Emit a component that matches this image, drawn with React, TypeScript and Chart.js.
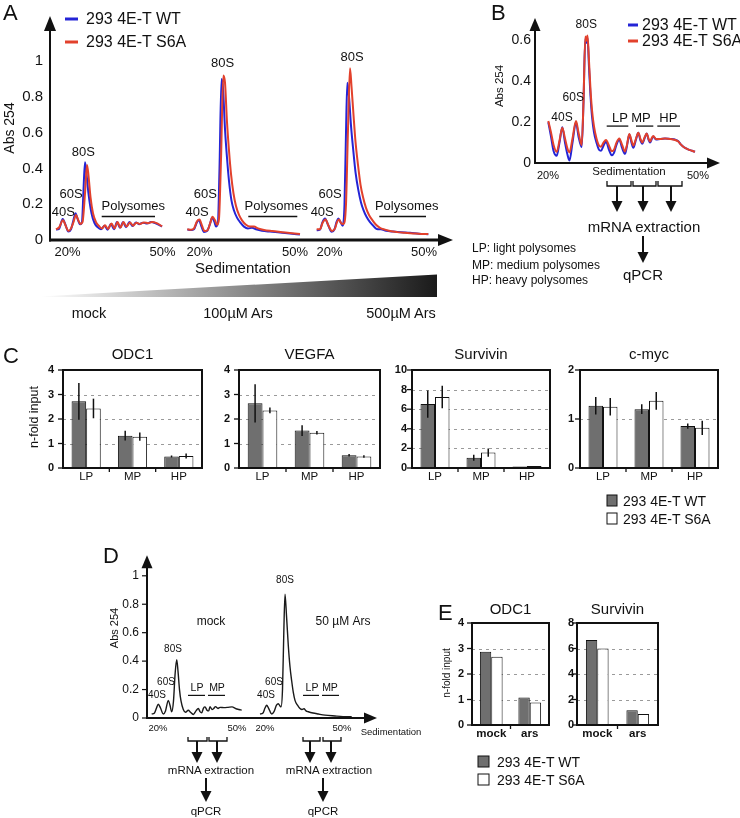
import React, { useEffect, useRef } from "react";
import { Chart, registerables } from "chart.js";

Chart.register(...registerables);

const FONT = '"Liberation Sans", Arial, Helvetica, sans-serif';
const INK = "#111";
const BLUE = "#2424d6";
const RED = "#e2412c";
const GRAY = "#6f6f6f";
Chart.defaults.font.family = FONT;
Chart.defaults.color = INK;

// ---------------- data: panel A (three polysome profiles) ----------------
const a1wtX = [6, 9, 12.7, 15.5, 18.3, 21, 23, 25.5, 27.5, 30, 32, 33.5, 35, 36.5, 38.5, 41.5, 44.5, 47.5, 51, 54.5, 57.5, 61, 64, 67, 70, 73, 76, 79.5, 82.5, 86, 89, 93, 97, 101, 105, 109, 112];
const a1wtY = [0.058, 0.062, 0.118, 0.085, 0.047, 0.06, 0.1, 0.15, 0.12, 0.088, 0.1, 0.28, 0.435, 0.37, 0.26, 0.15, 0.095, 0.072, 0.06, 0.08, 0.058, 0.09, 0.06, 0.1, 0.068, 0.1, 0.072, 0.1, 0.078, 0.098, 0.088, 0.097, 0.092, 0.1, 0.095, 0.085, 0.075];
const a1s6X = [6, 9, 13, 16, 18.5, 21, 23.5, 26, 28, 30.5, 32.5, 35, 37, 38.5, 40.5, 43, 46, 49, 52, 55, 58, 61.5, 64.5, 67.5, 70.5, 73.5, 76.5, 80, 83, 86.5, 90, 94, 98, 102, 106, 110, 112];
const a1s6Y = [0.06, 0.07, 0.11, 0.075, 0.05, 0.065, 0.1, 0.14, 0.115, 0.09, 0.1, 0.26, 0.42, 0.36, 0.24, 0.15, 0.1, 0.078, 0.065, 0.082, 0.062, 0.092, 0.065, 0.1, 0.07, 0.1, 0.075, 0.098, 0.08, 0.097, 0.09, 0.098, 0.094, 0.1, 0.096, 0.084, 0.076];

const a2wtX = [137.3, 141, 144, 147, 149, 151.5, 154, 157, 160, 162, 164.5, 166, 168, 169.5, 171.5, 173, 175, 177, 179, 181.5, 184, 187, 190, 194, 198, 202, 206, 212, 220, 230, 240, 250];
const a2wtY = [0.058, 0.056, 0.06, 0.1, 0.11, 0.075, 0.045, 0.05, 0.09, 0.125, 0.1, 0.075, 0.1, 0.4, 0.9, 0.85, 0.62, 0.46, 0.33, 0.22, 0.165, 0.125, 0.1, 0.075, 0.065, 0.068, 0.06, 0.052, 0.047, 0.042, 0.036, 0.031];
const a2s6X = [137.3, 141, 144, 147, 149.5, 152, 154.5, 157.5, 160.5, 162.5, 165, 167, 169, 171, 173.3, 175, 177, 179, 181, 183.5, 186, 189, 192, 196, 200, 204, 208, 214, 222, 232, 242, 250];
const a2s6Y = [0.06, 0.058, 0.065, 0.105, 0.115, 0.08, 0.05, 0.055, 0.1, 0.13, 0.11, 0.085, 0.12, 0.45, 0.92, 0.88, 0.66, 0.5, 0.37, 0.26, 0.19, 0.14, 0.11, 0.085, 0.075, 0.075, 0.065, 0.056, 0.05, 0.044, 0.038, 0.033];

const a3wtX = [266.7, 270, 272.5, 275, 278, 281.7, 284.5, 286.5, 288.3, 290.5, 292.7, 294.5, 296, 297.3, 299, 301, 303.3, 305.5, 308.3, 311, 313.3, 316.5, 320, 323.5, 326.7, 331, 336, 343.3, 351, 360, 369, 378.3];
const a3wtY = [0.055, 0.058, 0.1, 0.12, 0.085, 0.046, 0.06, 0.1, 0.12, 0.1, 0.08, 0.2, 0.6, 0.88, 0.8, 0.64, 0.5, 0.38, 0.28, 0.21, 0.17, 0.13, 0.1, 0.078, 0.062, 0.06, 0.052, 0.047, 0.043, 0.04, 0.035, 0.032];
const a3s6X = [266.7, 270, 272.5, 275.5, 278.5, 282, 285, 287, 289, 291, 293.5, 296, 298, 300, 301.5, 303.5, 305.5, 308, 310.5, 313, 316, 319, 322.5, 326, 330, 335, 340, 347, 355, 363, 371, 378.3];
const a3s6Y = [0.06, 0.06, 0.095, 0.115, 0.08, 0.05, 0.065, 0.1, 0.115, 0.095, 0.09, 0.2, 0.62, 0.96, 0.86, 0.7, 0.55, 0.42, 0.31, 0.24, 0.18, 0.14, 0.11, 0.085, 0.068, 0.058, 0.05, 0.044, 0.04, 0.037, 0.034, 0.033];

const aYTicks = [0, 0.2, 0.4, 0.6, 0.8, 1];
const aXTicks = [17.5, 112.5, 149.5, 245, 279.5, 374];
const aXLabels = ["20%", "50%", "20%", "50%", "20%", "50%"];

// ---------------- data: panel B ----------------
const bX = [13.3, 16, 18.5, 21.7, 24.5, 27.3, 30, 32.5, 34.5, 37.5, 41, 43.5, 46.7, 48.5, 50.3, 51.5, 52.5, 54, 55.5, 57, 59, 61.5, 64, 66, 68.5, 71, 74, 76.7, 79, 81.5, 84.3, 87, 90, 92, 94.3, 96.5, 98.3, 101, 103.3, 105.5, 107.3, 109.5, 111.7, 113.5, 115, 117, 118.3, 121, 125, 130, 135, 140, 143.3, 146, 149, 153, 157, 160];
const bWT = [0.2, 0.13, 0.06, 0.035, 0.1, 0.175, 0.1, 0.04, 0.012, 0.1, 0.2, 0.13, 0.078, 0.3, 0.61, 0.59, 0.615, 0.47, 0.33, 0.23, 0.15, 0.1, 0.065, 0.06, 0.085, 0.105, 0.065, 0.038, 0.05, 0.09, 0.115, 0.075, 0.045, 0.085, 0.14, 0.1, 0.075, 0.115, 0.148, 0.11, 0.095, 0.12, 0.145, 0.115, 0.1, 0.12, 0.13, 0.115, 0.118, 0.12, 0.118, 0.115, 0.107, 0.09, 0.077, 0.067, 0.06, 0.055];
const bS6A = [0.206, 0.15, 0.09, 0.055, 0.11, 0.173, 0.12, 0.07, 0.052, 0.12, 0.206, 0.15, 0.088, 0.3, 0.62, 0.6, 0.625, 0.5, 0.36, 0.26, 0.18, 0.12, 0.085, 0.08, 0.1, 0.113, 0.085, 0.058, 0.065, 0.1, 0.12, 0.09, 0.057, 0.09, 0.142, 0.11, 0.085, 0.12, 0.148, 0.118, 0.1, 0.125, 0.145, 0.12, 0.105, 0.125, 0.132, 0.118, 0.118, 0.12, 0.118, 0.113, 0.105, 0.09, 0.077, 0.067, 0.06, 0.055];
const bYTicks = [0, 0.2, 0.4, 0.6];
const bXTicks = [13, 163];
const bXLabels = ["20%", "50%"];

// ---------------- data: panel C (qPCR bars) ----------------
const cCats = ["LP", "MP", "HP"];
const odc1WT = [2.72, 1.32, 0.47];
const odc1WTErr = [0.75, 0.2, 0.04];
const odc1S6A = [2.43, 1.28, 0.49];
const odc1S6AErr = [0.4, 0.17, 0.1];
const vegfaWT = [2.64, 1.53, 0.52];
const vegfaWTErr = [0.78, 0.22, 0.05];
const vegfaS6A = [2.35, 1.44, 0.47];
const vegfaS6AErr = [0.12, 0.07, 0.05];
const survWT = [6.52, 1.05, 0.16];
const survWTErr = [1.4, 0.3, 0];
const survS6A = [7.25, 1.58, 0.2];
const survS6AErr = [1.15, 0.42, 0];
const mycWT = [1.27, 1.2, 0.855];
const mycWTErr = [0.18, 0.1, 0.055];
const mycS6A = [1.25, 1.37, 0.82];
const mycS6AErr = [0.18, 0.18, 0.145];

// ---------------- data: panel D ----------------
const d1X = [4.7, 7.5, 9.5, 11.3, 13.5, 16.3, 18.5, 21.3, 23, 24.7, 26.5, 28, 29.7, 31, 32.5, 34, 36.3, 38.5, 41.3, 43.5, 46.3, 49, 51.3, 53, 54.7, 56.5, 58, 60, 61.7, 63, 65, 66.5, 68.5, 71, 73, 77, 81, 85, 89, 92, 94.7];
const d1Y = [0.028, 0.035, 0.07, 0.097, 0.07, 0.028, 0.05, 0.124, 0.09, 0.044, 0.12, 0.3, 0.41, 0.33, 0.2, 0.12, 0.06, 0.04, 0.055, 0.04, 0.025, 0.05, 0.067, 0.045, 0.037, 0.07, 0.078, 0.055, 0.05, 0.08, 0.06, 0.065, 0.08, 0.067, 0.075, 0.073, 0.075, 0.078, 0.065, 0.06, 0.055];
const d2X = [113, 116, 118, 119.7, 121.5, 124.7, 127, 129.5, 131.3, 133, 134, 135.5, 136.8, 138, 139.5, 141.3, 143, 144.7, 146.3, 148, 150.5, 153, 155, 157, 159, 161.3, 166, 171.3, 178, 188, 196, 204.7];
const d2Y = [0.028, 0.035, 0.07, 0.09, 0.07, 0.028, 0.045, 0.09, 0.1, 0.085, 0.078, 0.2, 0.6, 0.87, 0.72, 0.51, 0.36, 0.26, 0.18, 0.124, 0.09, 0.067, 0.06, 0.065, 0.05, 0.044, 0.035, 0.028, 0.02, 0.014, 0.01, 0.009];
const dYTicks = [0, 0.2, 0.4, 0.6, 0.8, 1];
const dXTicks = [11, 90, 118, 195];
const dXLabels = ["20%", "50%", "20%", "50%"];

// ---------------- data: panel E ----------------
const eCats = ["mock", "ars"];
const eOdc1WT = [2.87, 1.08];
const eOdc1S6A = [2.68, 0.88];
const eSurvWT = [6.67, 1.15];
const eSurvS6A = [6.0, 0.86];

// ---------------------------------------------------------------
const pts = (xs: number[], ys: number[]) => xs.map((x, i) => ({ x, y: ys[i] }));

const decoPlugin = {
  id: "deco",
  beforeDatasetsDraw(chart: any, _a: any, o: any) {
    if (!o || !o.grid) return;
    const { ctx, chartArea: ca, scales } = chart;
    ctx.save();
    ctx.strokeStyle = "#9a9a9a";
    ctx.lineWidth = 1;
    ctx.setLineDash([3, 4]);
    for (const v of o.grid) {
      const py = Math.round(scales.y.getPixelForValue(v)) + 0.5;
      ctx.beginPath();
      ctx.moveTo(ca.left, py);
      ctx.lineTo(ca.right, py);
      ctx.stroke();
    }
    ctx.restore();
  },
  afterDatasetsDraw(chart: any, _a: any, o: any) {
    if (!o) return;
    const { ctx, chartArea: ca, scales } = chart;
    const xs = scales.x;
    const ys = scales.y;
    ctx.save();
    ctx.strokeStyle = INK;
    ctx.fillStyle = INK;
    if (o.errors) {
      ctx.lineWidth = 1.5;
      o.errors.forEach((errs: number[] | undefined, di: number) => {
        if (!errs) return;
        const meta = chart.getDatasetMeta(di);
        const vals = chart.data.datasets[di].data;
        meta.data.forEach((el: any, j: number) => {
          const e = errs[j];
          if (!e) return;
          ctx.beginPath();
          ctx.moveTo(el.x, ys.getPixelForValue(vals[j] - e));
          ctx.lineTo(el.x, ys.getPixelForValue(vals[j] + e));
          ctx.stroke();
        });
      });
    }
    if (o.box) {
      ctx.lineWidth = o.box;
      ctx.strokeRect(ca.left, ca.top, ca.right - ca.left, ca.bottom - ca.top);
    }
    if (o.yTickLen) {
      ctx.lineWidth = 1.3;
      for (const t of ys.ticks) {
        const py = ys.getPixelForValue(t.value);
        ctx.beginPath();
        ctx.moveTo(ca.left - o.yTickLen, py);
        ctx.lineTo(ca.left, py);
        ctx.stroke();
      }
    }
    if (o.xCatTicks) {
      ctx.lineWidth = 1.3;
      const n = xs.ticks.length;
      for (let k = 1; k < n; k++) {
        const px = xs.getPixelForValue(k - 0.5);
        ctx.beginPath();
        ctx.moveTo(px, ca.bottom);
        ctx.lineTo(px, ca.bottom + o.xCatTicks);
        ctx.stroke();
      }
    }
    if (o.axes) {
      const a = o.axes;
      ctx.lineWidth = a.yw;
      ctx.beginPath();
      ctx.moveTo(ca.left, ca.bottom + a.xw / 2);
      ctx.lineTo(ca.left, ca.top + a.head - 1);
      ctx.stroke();
      ctx.beginPath();
      ctx.moveTo(ca.left, ca.top);
      ctx.lineTo(ca.left - a.half, ca.top + a.head);
      ctx.lineTo(ca.left + a.half, ca.top + a.head);
      ctx.closePath();
      ctx.fill();
      ctx.lineWidth = a.xw;
      ctx.beginPath();
      ctx.moveTo(ca.left - a.yw / 2, ca.bottom);
      ctx.lineTo(ca.right - a.head + 1, ca.bottom);
      ctx.stroke();
      ctx.beginPath();
      ctx.moveTo(ca.right, ca.bottom);
      ctx.lineTo(ca.right - a.head, ca.bottom - a.half);
      ctx.lineTo(ca.right - a.head, ca.bottom + a.half);
      ctx.closePath();
      ctx.fill();
      if (a.yTickLen) {
        ctx.lineWidth = 1.2;
        for (const t of ys.ticks) {
          const py = ys.getPixelForValue(t.value);
          ctx.beginPath();
          ctx.moveTo(ca.left - a.yTickLen, py);
          ctx.lineTo(ca.left, py);
          ctx.stroke();
        }
      }
    }
    if (o.segs) {
      ctx.lineWidth = o.segW || 1.5;
      for (const s of o.segs) {
        const py = ys.getPixelForValue(s[2]);
        ctx.beginPath();
        ctx.moveTo(xs.getPixelForValue(s[0]), py);
        ctx.lineTo(xs.getPixelForValue(s[1]), py);
        ctx.stroke();
      }
    }
    if (o.texts) {
      ctx.textBaseline = "middle";
      for (const t of o.texts) {
        const px = t.px ? t.x : xs.getPixelForValue(t.x);
        const py = t.px ? t.y : ys.getPixelForValue(t.y);
        ctx.font = `${t.bold ? "bold " : ""}${t.size}px ${FONT}`;
        ctx.textAlign = t.align || "center";
        ctx.fillText(t.t, px, py);
      }
    }
    if (o.title) {
      ctx.textBaseline = "middle";
      ctx.textAlign = "center";
      ctx.font = `${o.title.size}px ${FONT}`;
      ctx.fillText(o.title.t, (ca.left + ca.right) / 2, ca.top - o.title.gap);
    }
    ctx.restore();
  },
};
Chart.register(decoPlugin as any);

function lineDs(data: any[], color: string, w = 2) {
  return {
    data,
    showLine: true,
    borderColor: color,
    backgroundColor: color,
    borderWidth: w,
    pointRadius: 0,
    cubicInterpolationMode: "monotone",
  };
}

function profileChart(p: any) {
  return {
    type: "scatter",
    data: { datasets: p.datasets },
    options: {
      responsive: false,
      animation: false,
      events: [],
      layout: { padding: p.pad },
      plugins: { legend: { display: false }, tooltip: { enabled: false }, deco: p.deco },
      scales: {
        x: {
          type: "linear",
          min: 0,
          max: p.xMax,
          grid: { display: false, drawTicks: false },
          border: { display: false },
          afterBuildTicks: (s: any) => {
            s.ticks = p.xTicks.map((v: number) => ({ value: v }));
          },
          afterFit: (s: any) => {
            s.height = p.xH;
          },
          ticks: {
            autoSkip: false,
            maxRotation: 0,
            padding: p.xPad,
            color: INK,
            font: { size: p.xFont },
            callback: (_v: any, i: number) => p.xLabels[i],
          },
        },
        y: {
          type: "linear",
          min: 0,
          max: p.yMax,
          grid: { display: false, drawTicks: false },
          border: { display: false },
          afterBuildTicks: (s: any) => {
            s.ticks = p.yTicks.map((v: number) => ({ value: v }));
          },
          afterFit: (s: any) => {
            s.width = p.yW;
          },
          ticks: { padding: p.yPad, color: INK, font: { size: p.yFont }, callback: (v: any) => String(v) },
        },
      },
    },
  };
}

function barChart(p: any) {
  const mk = (data: number[], bg: string) => ({
    data,
    backgroundColor: bg,
    borderColor: INK,
    borderWidth: 1,
    borderSkipped: false,
    categoryPercentage: p.catPct,
    barPercentage: 1,
  });
  return {
    type: "bar",
    data: { labels: p.labels, datasets: [mk(p.wt, GRAY), mk(p.s6, "#ffffff")] },
    options: {
      responsive: false,
      animation: false,
      events: [],
      layout: { padding: p.pad },
      plugins: {
        legend: { display: false },
        tooltip: { enabled: false },
        deco: {
          grid: p.grid,
          box: 2,
          yTickLen: 5,
          xCatTicks: 4,
          errors: p.errs,
          title: { t: p.title, size: 15, gap: p.titleGap },
        },
      },
      scales: {
        x: {
          grid: { display: false, drawTicks: false },
          border: { display: false },
          afterFit: (s: any) => {
            s.height = p.xH;
          },
          ticks: { padding: p.xPad, color: INK, font: { size: p.xFont, weight: p.xBold ? "bold" : "normal" } },
        },
        y: {
          min: 0,
          max: p.max,
          grid: { display: false, drawTicks: false },
          border: { display: false },
          afterBuildTicks: (s: any) => {
            s.ticks = p.ticks.map((v: number) => ({ value: v }));
          },
          afterFit: (s: any) => {
            s.width = p.yW;
          },
          ticks: { padding: p.yPad, color: INK, font: { size: 11, weight: "bold" }, callback: (v: any) => String(v) },
        },
      },
    },
  };
}

// ---------------- chart configurations ----------------
// (first dataset is drawn on top, so the S6A (red) traces come first)
const cfgA = () =>
  profileChart({
    datasets: [
      lineDs(pts(a1s6X, a1s6Y), RED),
      lineDs(pts(a2s6X, a2s6Y), RED),
      lineDs(pts(a3s6X, a3s6Y), RED),
      lineDs(pts(a1wtX, a1wtY), BLUE),
      lineDs(pts(a2wtX, a2wtY), BLUE),
      lineDs(pts(a3wtX, a3wtY), BLUE),
    ],
    xMax: 403,
    yMax: 1.2527,
    yTicks: aYTicks,
    yFont: 15,
    yPad: 7,
    yW: 50,
    xTicks: aXTicks,
    xLabels: aXLabels,
    xFont: 13,
    xPad: 5,
    xH: 22,
    pad: { top: 12, right: 7, left: 0, bottom: 0 },
    deco: {
      axes: { yw: 2, xw: 3, head: 15, half: 6 },
      segW: 1.5,
      segs: [
        [51.7, 105, 0.132],
        [198.3, 247.3, 0.132],
        [329.3, 376, 0.132],
      ],
      texts: [
        { t: "40S", x: 13.3, y: 0.157, size: 13 },
        { t: "60S", x: 21, y: 0.254, size: 13 },
        { t: "80S", x: 33.3, y: 0.487, size: 13 },
        { t: "Polysomes", x: 83.3, y: 0.188, size: 13 },
        { t: "40S", x: 147, y: 0.157, size: 13 },
        { t: "60S", x: 155.3, y: 0.254, size: 13 },
        { t: "80S", x: 172.5, y: 0.989, size: 13 },
        { t: "Polysomes", x: 226.3, y: 0.188, size: 13 },
        { t: "40S", x: 272.2, y: 0.157, size: 13 },
        { t: "60S", x: 280, y: 0.254, size: 13 },
        { t: "80S", x: 302, y: 1.023, size: 13 },
        { t: "Polysomes", x: 356.7, y: 0.188, size: 13 },
      ],
    },
  });

const cfgB = () =>
  profileChart({
    datasets: [lineDs(pts(bX, bS6A), RED), lineDs(pts(bX, bWT), BLUE)],
    xMax: 185,
    yMax: 0.711,
    yTicks: bYTicks,
    yFont: 14,
    yPad: 4,
    yW: 75,
    xTicks: bXTicks,
    xLabels: bXLabels,
    xFont: 11,
    xPad: 6,
    xH: 22,
    pad: { top: 18, right: 20, left: 0, bottom: 0 },
    deco: {
      axes: { yw: 2, xw: 2, head: 13, half: 5.5 },
      segW: 1.3,
      segs: [
        [71.7, 93.3, 0.181],
        [101, 118.3, 0.181],
        [122.3, 145, 0.181],
      ],
      texts: [
        { t: "40S", x: 27, y: 0.22, size: 12 },
        { t: "60S", x: 38.3, y: 0.319, size: 12 },
        { t: "80S", x: 51.3, y: 0.676, size: 12 },
        { t: "LP", x: 85, y: 0.219, size: 13 },
        { t: "MP", x: 106, y: 0.219, size: 13 },
        { t: "HP", x: 133.3, y: 0.219, size: 13 },
        { t: "Sedimentation", x: 169, y: 172, size: 11.5, px: true },
      ],
    },
  });

const cfgD = () =>
  profileChart({
    datasets: [lineDs(pts(d1X, d1Y), "#1a1a1a", 1.4), lineDs(pts(d2X, d2Y), "#1a1a1a", 1.4)],
    xMax: 230,
    yMax: 1.1448,
    yTicks: dYTicks,
    yFont: 12,
    yPad: 8,
    yW: 47,
    xTicks: dXTicks,
    xLabels: dXLabels,
    xFont: 9.5,
    xPad: 5,
    xH: 22,
    pad: { top: 12, right: 63, left: 0, bottom: 0 },
    deco: {
      axes: { yw: 2, xw: 2, head: 13, half: 5.5, yTickLen: 5 },
      segW: 1.2,
      segs: [
        [41, 58, 0.159],
        [61, 78, 0.159],
        [156, 172, 0.159],
        [175, 192, 0.159],
      ],
      texts: [
        { t: "40S", x: 10, y: 0.159, size: 10 },
        { t: "60S", x: 19, y: 0.248, size: 10 },
        { t: "80S", x: 26, y: 0.483, size: 10 },
        { t: "LP", x: 50, y: 0.207, size: 10.5 },
        { t: "MP", x: 70, y: 0.207, size: 10.5 },
        { t: "40S", x: 119, y: 0.159, size: 10 },
        { t: "60S", x: 127, y: 0.248, size: 10 },
        { t: "80S", x: 138, y: 0.966, size: 10 },
        { t: "LP", x: 165, y: 0.207, size: 10.5 },
        { t: "MP", x: 183, y: 0.207, size: 10.5 },
        { t: "mock", x: 64, y: 0.676, size: 12 },
        { t: "50 µM Ars", x: 196, y: 0.676, size: 12 },
        { t: "Sedimentation", x: 291, y: 192, size: 9.5, px: true },
      ],
    },
  });

const cBase = { labels: cCats, catPct: 0.63, xH: 17, xPad: 2, xFont: 11.5, titleGap: 15 };
const cfgC1 = () =>
  barChart({ ...cBase, wt: odc1WT, s6: odc1S6A, errs: [odc1WTErr, odc1S6AErr], max: 4, ticks: [0, 1, 2, 3, 4], grid: [1, 2, 3], title: "ODC1", yW: 63, yPad: 9, pad: { top: 25, right: 13, left: 0, bottom: 0 } });
const cfgC2 = () =>
  barChart({ ...cBase, wt: vegfaWT, s6: vegfaS6A, errs: [vegfaWTErr, vegfaS6AErr], max: 4, ticks: [0, 1, 2, 3, 4], grid: [1, 2, 3], title: "VEGFA", yW: 29, yPad: 9, pad: { top: 25, right: 5, left: 0, bottom: 0 } });
const cfgC3 = () =>
  barChart({ ...cBase, wt: survWT, s6: survS6A, errs: [survWTErr, survS6AErr], max: 10, ticks: [0, 2, 4, 6, 8, 10], grid: [2, 4, 6, 8], title: "Survivin", yW: 27, yPad: 5, pad: { top: 25, right: 10, left: 0, bottom: 0 } });
const cfgC4 = () =>
  barChart({ ...cBase, wt: mycWT, s6: mycS6A, errs: [mycWTErr, mycS6AErr], max: 2, ticks: [0, 1, 2], grid: [1], title: "c-myc", yW: 15, yPad: 6, pad: { top: 25, right: 22, left: 0, bottom: 0 } });

const eBase = { labels: eCats, catPct: 0.59, xH: 15, xPad: 2, xFont: 11.5, xBold: true, titleGap: 13 };
const cfgE1 = () =>
  barChart({ ...eBase, wt: eOdc1WT, s6: eOdc1S6A, max: 4, ticks: [0, 1, 2, 3, 4], grid: [1, 2, 3], title: "ODC1", yW: 17, yPad: 8, pad: { top: 28, right: 6, left: 0, bottom: 0 } });
const cfgE2 = () =>
  barChart({ ...eBase, catPct: 0.56, wt: eSurvWT, s6: eSurvS6A, max: 8, ticks: [0, 2, 4, 6, 8], grid: [2, 4, 6], title: "Survivin", yW: 22, yPad: 3, pad: { top: 28, right: 7, left: 0, bottom: 0 } });

// ---------------- components ----------------
function ChartBox({ x, y, w, h, cfg }: { x: number; y: number; w: number; h: number; cfg: () => any }) {
  const ref = useRef<HTMLCanvasElement | null>(null);
  useEffect(() => {
    const chart = new Chart(ref.current as HTMLCanvasElement, cfg());
    return () => chart.destroy();
  }, []);
  return <canvas ref={ref} width={w} height={h} style={{ position: "absolute", left: x, top: y, width: w, height: h }} />;
}

function Txt({ x, y, s, c, b, r, children }: { x: number; y: number; s: number; c?: boolean; b?: boolean; r?: boolean; children: any }) {
  return (
    <div
      style={{
        position: "absolute",
        left: x,
        top: y,
        fontSize: s,
        lineHeight: s * 1.2 + "px",
        fontFamily: FONT,
        fontWeight: b ? "bold" : "normal",
        color: INK,
        whiteSpace: "nowrap",
        transform: `translate(${c || r ? "-50%" : "0"}, -50%)${r ? " rotate(-90deg)" : ""}`,
      }}
    >
      {children}
    </div>
  );
}

function ArrowDown({ x, y1, y2, head = 11, half = 5.5 }: { x: number; y1: number; y2: number; head?: number; half?: number }) {
  return (
    <g>
      <line x1={x} y1={y1} x2={x} y2={y2 - head + 1} stroke={INK} strokeWidth={2} />
      <polygon points={`${x},${y2} ${x - half},${y2 - head} ${x + half},${y2 - head}`} fill={INK} />
    </g>
  );
}

function Bracket({ x1, x2, y, h = 5 }: { x1: number; x2: number; y: number; h?: number }) {
  return <polyline points={`${x1},${y - h} ${x1},${y} ${x2},${y} ${x2},${y - h}`} fill="none" stroke={INK} strokeWidth={1.3} />;
}

export default function App() {
  return (
    <div style={{ position: "absolute", left: 0, top: 0, width: 740, height: 818, background: "#fff", overflow: "hidden" }}>
      <ChartBox x={0} y={0} w={460} h={262} cfg={cfgA} />
      <ChartBox x={460} y={0} w={280} h={185} cfg={cfgB} />
      <ChartBox x={0} y={345} w={215} h={140} cfg={cfgC1} />
      <ChartBox x={210} y={345} w={175} h={140} cfg={cfgC2} />
      <ChartBox x={385} y={345} w={175} h={140} cfg={cfgC3} />
      <ChartBox x={565} y={345} w={175} h={140} cfg={cfgC4} />
      <ChartBox x={100} y={540} w={340} h={200} cfg={cfgD} />
      <ChartBox x={455} y={595} w={100} h={145} cfg={cfgE1} />
      <ChartBox x={555} y={595} w={110} h={145} cfg={cfgE2} />

      <svg width={740} height={818} style={{ position: "absolute", left: 0, top: 0, pointerEvents: "none" }}>
        <defs>
          <linearGradient id="ars" x1="40" y1="0" x2="437" y2="0" gradientUnits="userSpaceOnUse">
            <stop offset="0" stopColor="#ffffff" />
            <stop offset="1" stopColor="#1a1a1a" />
          </linearGradient>
        </defs>
        <polygon points="40,296.5 437,274.5 437,297 40,297" fill="url(#ars)" />
        {/* legend A */}
        <line x1={65} y1={19} x2={78} y2={19} stroke={BLUE} strokeWidth={3} />
        <line x1={65} y1={42} x2={78} y2={42} stroke={RED} strokeWidth={3} />
        {/* legend B */}
        <line x1={628} y1={25} x2={638} y2={25} stroke={BLUE} strokeWidth={3} />
        <line x1={628} y1={41} x2={638} y2={41} stroke={RED} strokeWidth={3} />
        {/* B flow */}
        <Bracket x1={607} x2={631} y={186} />
        <Bracket x1={633} x2={656} y={186} />
        <Bracket x1={658} x2={682} y={186} />
        <ArrowDown x={617} y1={186} y2={212} />
        <ArrowDown x={643} y1={186} y2={212} />
        <ArrowDown x={671} y1={186} y2={212} />
        <ArrowDown x={643} y1={236} y2={263} />
        {/* C legend */}
        <rect x={607} y={495} width={10} height={11} fill={GRAY} stroke={INK} strokeWidth={1} />
        <rect x={607} y={513} width={10} height={11} fill="#fff" stroke={INK} strokeWidth={1} />
        {/* D flow */}
        <Bracket x1={188} x2={207} y={741} h={4} />
        <Bracket x1={209} x2={227} y={741} h={4} />
        <Bracket x1={303} x2={320} y={741} h={4} />
        <Bracket x1={323} x2={341} y={741} h={4} />
        <ArrowDown x={197} y1={741} y2={763} />
        <ArrowDown x={217} y1={741} y2={763} />
        <ArrowDown x={310} y1={741} y2={763} />
        <ArrowDown x={331} y1={741} y2={763} />
        <ArrowDown x={206} y1={778} y2={802} />
        <ArrowDown x={323} y1={778} y2={802} />
        {/* E legend */}
        <rect x={478} y={756} width={11} height={11} fill={GRAY} stroke={INK} strokeWidth={1} />
        <rect x={478} y={774} width={11} height={11} fill="#fff" stroke={INK} strokeWidth={1} />
      </svg>

      {/* panel letters */}
      <Txt x={3} y={13} s={22}>A</Txt>
      <Txt x={491} y={13} s={22}>B</Txt>
      <Txt x={3} y={356} s={22}>C</Txt>
      <Txt x={103} y={556} s={22}>D</Txt>
      <Txt x={438} y={613} s={22}>E</Txt>

      {/* A */}
      <Txt x={86} y={19} s={16}>293 4E-T WT</Txt>
      <Txt x={86} y={42} s={16}>293 4E-T S6A</Txt>
      <Txt x={9} y={128} s={14} r>Abs 254</Txt>
      <Txt x={243} y={268} s={15} c>Sedimentation</Txt>
      <Txt x={89} y={314} s={14.5} c>mock</Txt>
      <Txt x={238} y={314} s={14.5} c>100µM Ars</Txt>
      <Txt x={401} y={314} s={14.5} c>500µM Ars</Txt>

      {/* B */}
      <Txt x={642} y={25} s={16}>293 4E-T WT</Txt>
      <Txt x={642} y={41} s={16}>293 4E-T S6A</Txt>
      <Txt x={500} y={86} s={11.5} r>Abs 254</Txt>
      <Txt x={644} y={227} s={15} c>mRNA extraction</Txt>
      <Txt x={643} y={275} s={15} c>qPCR</Txt>
      <Txt x={472} y={248} s={12}>LP: light polysomes</Txt>
      <Txt x={472} y={264.5} s={12}>MP: medium polysomes</Txt>
      <Txt x={472} y={280} s={12}>HP: heavy polysomes</Txt>

      {/* C */}
      <Txt x={34} y={417} s={12.5} r>n-fold input</Txt>
      <Txt x={623} y={501} s={14}>293 4E-T WT</Txt>
      <Txt x={623} y={519} s={14}>293 4E-T S6A</Txt>

      {/* D */}
      <Txt x={115} y={628} s={11} r>Abs 254</Txt>
      <Txt x={211} y={771} s={11.5} c>mRNA extraction</Txt>
      <Txt x={329} y={771} s={11.5} c>mRNA extraction</Txt>
      <Txt x={206} y={812} s={11.5} c>qPCR</Txt>
      <Txt x={323} y={812} s={11.5} c>qPCR</Txt>

      {/* E */}
      <Txt x={447} y={673} s={10} r>n-fold input</Txt>
      <Txt x={497} y={762} s={14}>293 4E-T WT</Txt>
      <Txt x={497} y={780} s={14}>293 4E-T S6A</Txt>
    </div>
  );
}
